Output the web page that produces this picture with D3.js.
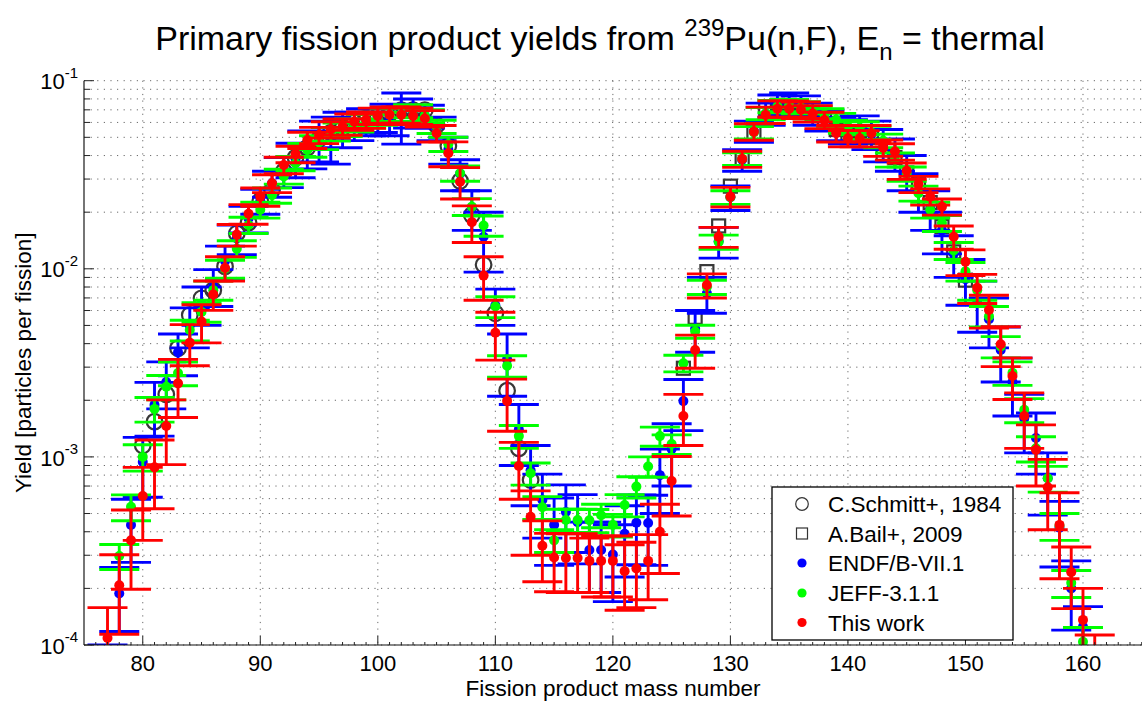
<!DOCTYPE html>
<html>
<head>
<meta charset="utf-8">
<script src="https://cdn.jsdelivr.net/npm/d3@7"></script>
<style>
  body { margin: 0; background: #fff; }
  svg { display: block; }
  text { font-family: "Liberation Sans", Arial, Helvetica, sans-serif; fill: #000; }
</style>
</head>
<body>
<svg id="chart" width="1142" height="702"></svg>
<script>
// ---- Data: primary fission product yields, 239Pu(n,F) thermal ----
const massThisWork = [77,78,79,80,81,82,83,84,85,86,87,88,89,90,91,92,93,94,95,96,97,98,99,100,101,102,103,104,105,106,107,108,109,110,111,112,113,114,115,116,117,118,119,120,121,122,123,124,125,126,127,128,129,130,131,132,133,134,135,136,137,138,139,140,141,142,143,144,145,146,147,148,149,150,151,152,153,154,155,156,157,158,159,160,161];
const yieldThisWork = [
  1.09e-4, 2.08e-4, 3.6e-4, 6.2e-4, 8.8e-4, 1.46e-3, 2.46e-3, 4.05e-3, 5.24e-3, 7.31e-3,
  1.01e-2, 1.52e-2, 1.96e-2, 2.42e-2, 2.85e-2, 3.56e-2, 4.07e-2, 4.84e-2, 5.14e-2, 5.5e-2,
  5.7e-2, 6.05e-2, 6.2e-2, 6.5e-2, 6.6e-2, 6.6e-2, 6.5e-2, 6.3e-2, 5.25e-2, 4.11e-2,
  2.9e-2, 1.77e-2, 9.2e-3, 4.57e-3, 1.98e-3, 8.95e-4, 4.8e-4, 3.37e-4, 2.92e-4, 2.9e-4,
  2.9e-4, 2.8e-4, 2.8e-4, 2.8e-4, 2.47e-4, 2.55e-4, 2.8e-4, 4.0e-4, 7.45e-4, 1.65e-3,
  3.7e-3, 8.2e-3, 1.48e-2, 2.42e-2, 3.84e-2, 5.36e-2, 6.58e-2, 7.1e-2, 7.1e-2, 7.0e-2,
  6.7e-2, 6.18e-2, 5.25e-2, 4.94e-2, 4.94e-2, 5.25e-2, 4.4e-2, 4.2e-2, 3.32e-2, 2.82e-2,
  2.42e-2, 2.14e-2, 1.48e-2, 1.09e-2, 7.94e-3, 6.04e-3, 3.97e-3, 2.69e-3, 1.65e-3, 1.09e-3,
  6.9e-4, 4.35e-4, 2.44e-4, 1.36e-4, 8.0e-5];
const errThisWork = [
  0.49e-4, 0.94e-4, 1.62e-4, 2.6e-4, 3.5e-4, 5.5e-4, 8.4e-4, 1.0e-3, 1.2e-3, 1.3e-3,
  1.5e-3, 2.0e-3, 2.35e-3, 2.7e-3, 3.1e-3, 3.6e-3, 4.1e-3, 4.8e-3, 5.1e-3, 5.5e-3,
  5.7e-3, 6.0e-3, 6.2e-3, 6.5e-3, 6.6e-3, 6.6e-3, 6.5e-3, 6.3e-3, 5.3e-3, 6.2e-3,
  5.5e-3, 3.9e-3, 2.4e-3, 1.3e-3, 6.1e-4, 3.0e-4, 1.8e-4, 1.2e-4, 1.0e-4, 1.0e-4,
  1.0e-4, 0.9e-4, 1.0e-4, 1.0e-4, 0.94e-4, 0.97e-4, 1.06e-4, 1.6e-4, 2.6e-4, 5.0e-4,
  7.4e-4, 1.2e-3, 1.8e-3, 2.9e-3, 3.8e-3, 5.4e-3, 6.6e-3, 7.1e-3, 7.1e-3, 7.0e-3,
  6.7e-3, 6.2e-3, 5.3e-3, 4.9e-3, 4.9e-3, 5.3e-3, 4.4e-3, 4.2e-3, 3.3e-3, 2.8e-3,
  2.4e-3, 2.1e-3, 2.1e-3, 1.7e-3, 1.4e-3, 1.2e-3, 9.5e-4, 6.7e-4, 5.4e-4, 3.9e-4,
  2.8e-4, 2.1e-4, 0.88e-4, 0.64e-4, 3.3e-5];

const massENDF = [77,78,79,80,81,82,83,84,85,86,87,88,89,90,91,92,93,94,95,96,97,98,99,100,101,102,103,104,105,106,107,108,109,110,111,112,113,114,115,116,117,118,119,120,121,122,123,124,125,126,127,128,129,130,131,132,133,134,135,136,137,138,139,140,141,142,143,144,145,146,147,148,149,150,151,152,153,154,155,156,157,158,159,160];
const yieldENDF = [
  7.0e-5, 1.88e-4, 4.35e-4, 9.4e-4, 1.89e-3, 2.5e-3, 3.6e-3, 5.0e-3, 6.5e-3, 8.1e-3,
  1.1e-2, 1.45e-2, 1.85e-2, 2.3e-2, 2.85e-2, 3.3e-2, 3.85e-2, 4.4e-2, 4.9e-2, 5.0e-2,
  5.6e-2, 5.8e-2, 6.1e-2, 6.2e-2, 6.3e-2, 6.6e-2, 6.8e-2, 6.5e-2, 5.6e-2, 4.3e-2,
  3.2e-2, 2.1e-2, 1.48e-2, 6.4e-3, 3.3e-3, 1.4e-3, 8.5e-4, 5.9e-4, 4.35e-4, 5.1e-4,
  4.5e-4, 3.2e-4, 3.2e-4, 3.03e-4, 3.9e-4, 4.47e-4, 4.45e-4, 8.0e-4, 1.1e-3, 1.98e-3,
  4.8e-3, 7.4e-3, 1.4e-2, 2.4e-2, 3.8e-2, 5.4e-2, 6.7e-2, 7.4e-2, 7.6e-2, 7.3e-2,
  6.7e-2, 6.2e-2, 5.6e-2, 5.4e-2, 5.6e-2, 5.2e-2, 4.6e-2, 4.1e-2, 3.3e-2, 2.6e-2,
  2.1e-2, 1.6e-2, 1.2e-2, 8.8e-3, 6.6e-3, 5.4e-3, 3.7e-3, 2.5e-3, 1.6e-3, 1.26e-3,
  7.7e-4, 4.2e-4, 2.0e-4, 1.25e-4];
const errENDF = [
  3.0e-5, 0.7e-4, 1.6e-4, 3.3e-4, 0.6e-3, 0.7e-3, 0.9e-3, 1.2e-3, 1.5e-3, 1.8e-3,
  2.2e-3, 2.6e-3, 3.0e-3, 3.5e-3, 4.5e-3, 6e-3, 8e-3, 1.0e-2, 1.2e-2, 1.4e-2,
  1.2e-2, 1.0e-2, 1.0e-2, 0.9e-2, 1.2e-2, 2.0e-2, 1.2e-2, 0.9e-2, 0.8e-2, 0.7e-2,
  0.6e-2, 0.5e-2, 0.52e-2, 1.4e-3, 1.2e-3, 0.5e-3, 3.0e-4, 2.2e-4, 1.7e-4, 2.0e-4,
  1.8e-4, 1.3e-4, 1.3e-4, 1.33e-4, 1.6e-4, 1.8e-4, 1.8e-4, 3.0e-4, 0.4e-3, 0.6e-3,
  1.2e-3, 1.6e-3, 2.6e-3, 3.6e-3, 5e-3, 7e-3, 9e-3, 1.0e-2, 1.0e-2, 1.0e-2,
  9e-3, 8e-3, 8e-3, 8e-3, 9e-3, 9e-3, 9e-3, 8e-3, 7e-3, 6e-3,
  5e-3, 4e-3, 3e-3, 2.4e-3, 2.0e-3, 1.6e-3, 1.2e-3, 0.85e-3, 0.55e-3, 0.45e-3,
  2.8e-4, 1.6e-4, 0.8e-4, 0.35e-4];

const massJEFF = [78,79,80,81,82,83,84,85,86,87,88,89,90,91,92,93,94,95,96,97,98,99,100,101,102,103,104,105,106,107,108,109,110,111,112,113,114,115,116,117,118,119,120,121,122,123,124,125,126,127,128,129,130,131,132,133,134,135,136,137,138,139,140,141,142,143,144,145,146,147,148,149,150,151,152,153,154,155,156,157,158,159,160];
const yieldJEFF = [
  2.97e-4, 5.43e-4, 1.0e-3, 1.8e-3, 2.36e-3, 2.79e-3, 4.73e-3, 5.9e-3, 7.7e-3,
  1.0e-2, 1.28e-2, 1.71e-2, 2.06e-2, 2.46e-2, 3.1e-2, 3.64e-2, 4.28e-2, 4.7e-2, 5.2e-2,
  5.5e-2, 5.8e-2, 6.1e-2, 6.3e-2, 6.6e-2, 6.6e-2, 6.9e-2, 6.5e-2, 5.7e-2, 4.6e-2,
  3.22e-2, 2.14e-2, 1.7e-2, 6.3e-3, 3.05e-3, 1.29e-3, 8.18e-4, 5.4e-4, 3.6e-4, 4.62e-4,
  4.62e-4, 4.6e-4, 4.9e-4, 4.35e-4, 5.55e-4, 6.95e-4, 8.9e-4, 1.29e-3, 1.17e-3, 3.15e-3,
  4.64e-3, 8.0e-3, 1.39e-2, 2.4e-2, 3.84e-2, 5.3e-2, 6.7e-2, 7.3e-2, 7.4e-2, 7.2e-2,
  6.8e-2, 6.6e-2, 6.2e-2, 5.7e-2, 5.6e-2, 5.3e-2, 4.8e-2, 3.8e-2, 3.2e-2, 2.52e-2,
  2.06e-2, 1.75e-2, 1.25e-2, 9.7e-3, 7.7e-3, 5.6e-3, 3.86e-3, 2.8e-3, 1.78e-3, 1.11e-3,
  7.7e-4, 4.3e-4, 2.14e-4, 1.04e-4];
const errJEFF = [
  0.45e-4, 0.85e-4, 1.6e-4, 2.7e-4, 3.5e-4, 4e-4, 6e-4, 7e-4, 9e-4,
  1.1e-3, 1.3e-3, 1.7e-3, 2e-3, 2.3e-3, 2.8e-3, 3.2e-3, 3.6e-3, 4e-3, 4.3e-3,
  4.5e-3, 4.7e-3, 5e-3, 5e-3, 5.3e-3, 5.3e-3, 5.5e-3, 5.2e-3, 4.6e-3, 4.0e-3,
  3e-3, 2.2e-3, 2.1e-3, 8e-4, 4e-4, 1.8e-4, 1.1e-4, 0.75e-4, 0.5e-4, 0.65e-4,
  0.65e-4, 0.65e-4, 0.7e-4, 0.6e-4, 0.75e-4, 0.9e-4, 1.1e-4, 1.5e-4, 1.4e-4, 3.2e-4,
  3.7e-4, 7e-4, 1.2e-3, 2e-3, 3e-3, 4e-3, 5e-3, 5.5e-3, 5.5e-3, 5.4e-3,
  5.2e-3, 5e-3, 5e-3, 4.5e-3, 4.5e-3, 4.3e-3, 4e-3, 3.3e-3, 2.8e-3, 2.3e-3,
  2e-3, 1.7e-3, 1.3e-3, 1.1e-3, 9e-4, 7e-4, 5e-4, 4e-4, 2.6e-4, 1.7e-4,
  1.2e-4, 0.7e-4, 0.35e-4, 0.2e-4];

const massSchmitt = [80,81,82,83,84,85,86,87,88,89,90,91,92,93,94,95,96,97,98,99,100,101,102,103,104,105,106,107,108,109,110,111,112,113];
const yieldSchmitt = [
  1.15e-3, 1.54e-3, 2.15e-3, 3.78e-3, 5.68e-3, 6.97e-3, 7.7e-3, 1.03e-2, 1.54e-2, 1.76e-2,
  2.3e-2, 2.62e-2, 3.3e-2, 3.9e-2, 4.4e-2, 4.9e-2, 5.3e-2, 5.6e-2, 6.0e-2, 6.3e-2,
  6.5e-2, 6.7e-2, 6.98e-2, 6.98e-2, 6.98e-2, 5.8e-2, 4.5e-2, 2.93e-2, 1.93e-2, 1.05e-2,
  5.8e-3, 2.25e-3, 1.11e-3, 7.53e-4];

const massBail = [126,127,128,129,130,131,132,133,134,135,136,137,138,139,140,141,142,143,144,145,146,147,148,149,150];
const yieldBail = [
  2.96e-3, 5.52e-3, 9.66e-3, 1.69e-2, 2.75e-2, 3.84e-2, 5.25e-2, 7.13e-2, 7.4e-2, 7.4e-2,
  7.2e-2, 6.7e-2, 6.2e-2, 5.5e-2, 5.2e-2, 5.3e-2, 5.0e-2, 4.0e-2, 3.9e-2, 3.23e-2,
  2.8e-2, 2.25e-2, 1.68e-2, 1.23e-2, 8.7e-3];

const xTickValues = [80, 90, 100, 110, 120, 130, 140, 150, 160];
const yDecades = [-4, -3, -2, -1];
const legendLabels = ["C.Schmitt+, 1984", "A.Bail+, 2009", "ENDF/B-VII.1", "JEFF-3.1.1", "This work"];

// ---- Layout ----
const svg = d3.select("#chart");
const plotLeft = 84, plotRight = 1141.75, plotTop = 80.7, plotBottom = 645;
const x = d3.scaleLinear().domain([75, 165]).range([plotLeft, plotRight]);
const y = d3.scaleLog().domain([1e-4, 1e-1]).range([plotBottom, plotTop]);

svg.append("defs").append("clipPath").attr("id", "plotClip")
  .append("rect").attr("x", plotLeft).attr("y", plotTop - 1)
  .attr("width", plotRight - plotLeft + 2).attr("height", plotBottom - plotTop + 1);

// ---- Dotted grid ----
const grid = svg.append("g").attr("stroke", "#6a6a6a").attr("stroke-width", 1)
  .attr("stroke-dasharray", "1.2,5.4").attr("fill", "none");
xTickValues.forEach(v => {
  grid.append("line").attr("x1", x(v)).attr("x2", x(v)).attr("y1", plotTop).attr("y2", plotBottom);
});
const yGridValues = [];
yDecades.forEach(e => {
  if (e === -1) { yGridValues.push(1e-1); return; }
  for (let k = 1; k <= 9; k++) yGridValues.push(k * Math.pow(10, e));
});
yGridValues.forEach(v => {
  grid.append("line").attr("x1", plotLeft).attr("x2", plotRight).attr("y1", y(v)).attr("y2", y(v));
});

// ---- Data layer ----
const dataLayer = svg.append("g").attr("clip-path", "url(#plotClip)");

// reference measurements (open markers)
const gray = "#383838";
dataLayer.append("g").selectAll("circle").data(massSchmitt.map((m, i) => [m, yieldSchmitt[i]]))
  .join("circle")
  .attr("cx", d => x(d[0])).attr("cy", d => y(d[1])).attr("r", 7.8)
  .attr("fill", "none").attr("stroke", gray).attr("stroke-width", 2.2);
dataLayer.append("g").selectAll("rect").data(massBail.map((m, i) => [m, yieldBail[i]]))
  .join("rect")
  .attr("x", d => x(d[0]) - 6.5).attr("y", d => y(d[1]) - 6.5)
  .attr("width", 13).attr("height", 13)
  .attr("fill", "none").attr("stroke", gray).attr("stroke-width", 2.2);

// evaluated / measured yields with error bars
function errorSeries(mass, values, errors, color) {
  const pts = mass.map((m, i) => ({ m, v: values[i], e: errors[i] }));
  const g = dataLayer.append("g");
  const capHalf = 20;
  const bars = g.append("g").attr("stroke", color).attr("stroke-width", 2.9).attr("fill", "none");
  pts.forEach(p => {
    const cx = x(p.m);
    const hi = y(p.v + p.e);
    const lowVal = p.v - p.e;
    const lo = lowVal > 0 ? y(lowVal) : plotBottom + 50;
    bars.append("line").attr("x1", cx).attr("x2", cx).attr("y1", hi).attr("y2", lo);
    bars.append("line").attr("x1", cx - capHalf).attr("x2", cx + capHalf).attr("y1", hi).attr("y2", hi);
    if (lowVal > 0) {
      bars.append("line").attr("x1", cx - capHalf).attr("x2", cx + capHalf).attr("y1", lo).attr("y2", lo);
    }
  });
  g.append("g").selectAll("circle").data(pts).join("circle")
    .attr("cx", d => x(d.m)).attr("cy", d => y(d.v)).attr("r", 5)
    .attr("fill", color);
}
errorSeries(massENDF, yieldENDF, errENDF, "#0000ff");
errorSeries(massJEFF, yieldJEFF, errJEFF, "#00ff00");
errorSeries(massThisWork, yieldThisWork, errThisWork, "#ff0000");

// ---- Axes ----
const axes = svg.append("g");
// left axis line and ticks
axes.append("line").attr("x1", plotLeft).attr("x2", plotLeft).attr("y1", plotTop).attr("y2", plotBottom)
  .attr("stroke", "#3a3a3a").attr("stroke-width", 1.4);
yGridValues.forEach(v => {
  const major = Math.abs(Math.log10(v) - Math.round(Math.log10(v))) < 1e-9;
  axes.append("line").attr("x1", plotLeft).attr("x2", plotLeft + (major ? 10 : 6))
    .attr("y1", y(v)).attr("y2", y(v)).attr("stroke", "#222").attr("stroke-width", 1);
});
// bottom axis line and ticks
axes.append("line").attr("x1", plotLeft).attr("x2", plotRight + 1).attr("y1", plotBottom).attr("y2", plotBottom)
  .attr("stroke", "#111").attr("stroke-width", 1.2);
for (let m = 76; m <= 165; m++) {
  const major = m % 10 === 0;
  axes.append("line").attr("x1", x(m)).attr("x2", x(m))
    .attr("y1", plotBottom).attr("y2", plotBottom - (major ? 9 : 3))
    .attr("stroke", "#222").attr("stroke-width", 1);
}
// tick labels
xTickValues.forEach(v => {
  axes.append("text").attr("x", x(v)).attr("y", 671).attr("text-anchor", "middle")
    .attr("font-size", 22).text(v);
});
yDecades.forEach(e => {
  const t = axes.append("text").attr("x", 78).attr("y", y(Math.pow(10, e)) + 8.6)
    .attr("text-anchor", "end").attr("font-size", 22);
  t.append("tspan").text("10");
  t.append("tspan").attr("dy", -11.3).attr("font-size", 15).text(String(e));
});

// axis titles
svg.append("text").attr("x", 613).attr("y", 696).attr("text-anchor", "middle")
  .attr("font-size", 22.5).text("Fission product mass number");
svg.append("text").attr("transform", `translate(31,${(plotTop + plotBottom) / 2}) rotate(-90)`)
  .attr("text-anchor", "middle").attr("font-size", 22.5).text("Yield [particles per fission]");

// chart title
const title = svg.append("text").attr("x", 600).attr("y", 50).attr("text-anchor", "middle").attr("font-size", 34);
title.append("tspan").text("Primary fission product yields from ");
title.append("tspan").attr("dy", -14).attr("font-size", 24).text("239");
title.append("tspan").attr("dy", 14).text("Pu(n,F), E");
title.append("tspan").attr("dy", 10).attr("font-size", 24).text("n");
title.append("tspan").attr("dy", -10).text(" = thermal");

// ---- Legend ----
const legend = svg.append("g");
const lgX = 772, lgY = 487, lgW = 241, lgH = 153;
legend.append("rect").attr("x", lgX).attr("y", lgY).attr("width", lgW).attr("height", lgH)
  .attr("fill", "#fff").attr("stroke", "#000").attr("stroke-width", 1.3);
const rowY = [504, 533.5, 563, 593, 622.5];
const markX = 802;
legend.append("circle").attr("cx", markX).attr("cy", rowY[0]).attr("r", 6.3)
  .attr("fill", "none").attr("stroke", "#333").attr("stroke-width", 1.2);
legend.append("rect").attr("x", markX - 5.5).attr("y", rowY[1] - 5.5).attr("width", 11).attr("height", 11)
  .attr("fill", "none").attr("stroke", "#333").attr("stroke-width", 1.2);
["#0000ff", "#00ff00", "#ff0000"].forEach((c, i) => {
  legend.append("circle").attr("cx", markX).attr("cy", rowY[i + 2]).attr("r", 4.6).attr("fill", c);
});
legendLabels.forEach((label, i) => {
  legend.append("text").attr("x", 828).attr("y", rowY[i] + 8).attr("font-size", 22.5).text(label);
});
</script>
</body>
</html>
